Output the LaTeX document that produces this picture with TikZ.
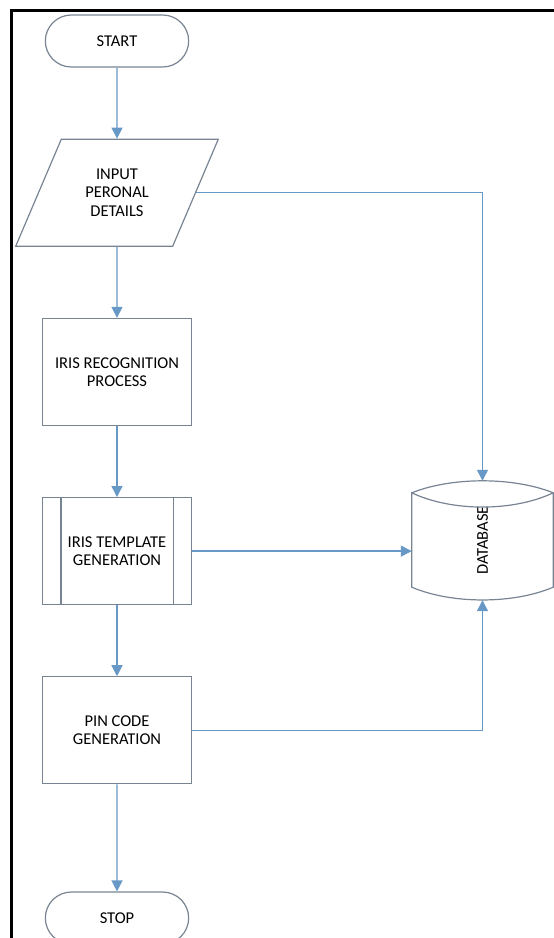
\documentclass[tikz,border=0pt]{standalone}
\usepackage{fontspec}
\setmainfont{Carlito}
\usetikzlibrary{shapes.geometric, shapes.misc, arrows.meta, positioning}

\definecolor{shapeedge}{RGB}{120,132,146}
\definecolor{flowline}{RGB}{104,152,198}

\tikzset{
  shapeline/.style={draw=shapeedge, line width=1.2pt},
  terminal/.style={rounded rectangle, shapeline, minimum width=150pt, minimum height=52pt, align=center},
  process/.style={rectangle, shapeline, minimum width=149pt, minimum height=107pt, align=center},
  io/.style={trapezium, trapezium left angle=62, trapezium right angle=118, trapezium stretches=true,
    shapeline, minimum width=203pt, minimum height=107pt, align=center},
  flow/.style={draw=flowline, line width=1.3pt, -{Triangle[width=11pt,length=11pt,fill=flowline]}}
}

\begin{document}
\begin{tikzpicture}[x=1pt, y=1pt, node distance=71pt,
  font=\fontsize{16.5pt}{18.3pt}\selectfont]
\useasboundingbox (0,0) rectangle (554,-938);

% Frame
\draw[line width=3.5pt] (11.5,-938) -- (11.5,-10.5) -- (554,-10.5);

% Main column
\node[terminal] (start) at (117,-41) {START};
\node[io, below=of start] (input) {INPUT\\PERONAL\\DETAILS};
\node[process, below=of input] (iris) {IRIS RECOGNITION\\PROCESS};
\node[process, below=of iris] (tmpl) {IRIS TEMPLATE\\GENERATION};
\node[process, below=of tmpl] (pin) {PIN CODE\\GENERATION};
\node[terminal, below=107pt of pin] (stop) {STOP};

% Predefined process bars
\draw[shapeline] ([xshift=19pt]tmpl.north west) -- ([xshift=19pt]tmpl.south west);
\draw[shapeline] ([xshift=-19pt]tmpl.north east) -- ([xshift=-19pt]tmpl.south east);

% Database
\node[minimum width=141pt, minimum height=119pt, inner sep=0pt] (db) at (482.5,-540.5) {\rotatebox{90}{DATABASE}};
\coordinate (dbtl) at ([yshift=-12pt]db.north west);
\coordinate (dbtr) at ([yshift=-12pt]db.north east);
\coordinate (dbbl) at ([yshift=13pt]db.south west);
\coordinate (dbbr) at ([yshift=13pt]db.south east);
\draw[shapeline] (dbtl) .. controls +(40,16) and +(-40,16) .. (dbtr)
  .. controls +(-40,-19) and +(40,-19) .. (dbtl) -- (dbbl)
  .. controls +(40,-17) and +(-40,-17) .. (dbbr) -- (dbtr);

% Connectors
\draw[flow] (start) -- (input);
\draw[flow] (input) -- (iris);
\draw[flow] (iris) -- (tmpl);
\draw[flow] (tmpl) -- (pin);
\draw[flow] (pin) -- (stop);
\draw[flow] (input.east) -| (db.north);
\draw[flow] (tmpl.east) -- (tmpl.east -| db.west);
\draw[flow] (pin.east) -| (db.south);
\end{tikzpicture}
\end{document}
